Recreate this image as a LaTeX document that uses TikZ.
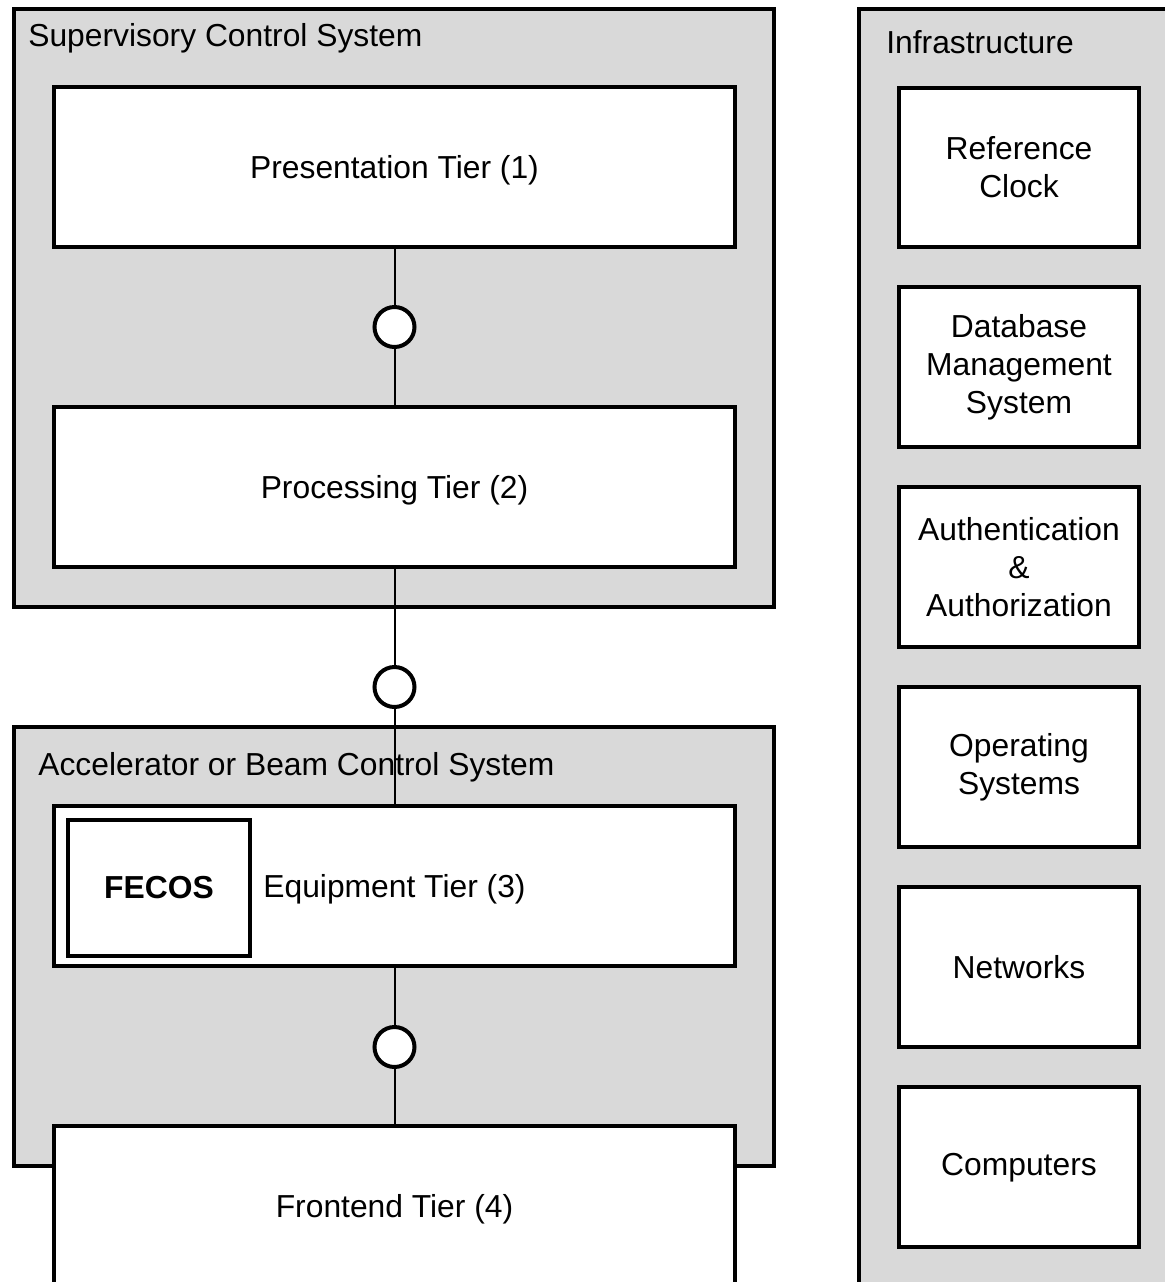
\documentclass[tikz,border=0pt]{standalone}
\usepackage{fontspec}
\setmainfont{Liberation Sans}
\usetikzlibrary{positioning}

\definecolor{groupgray}{RGB}{217,217,217}

\tikzset{
  group/.style={draw,line width=0.08cm,fill=groupgray},
  grouplabel/.style={anchor=west,inner sep=0},
  tier/.style={draw,line width=0.08cm,fill=white,inner sep=0,outer sep=0,
               minimum width=13.62cm,minimum height=3.2cm,text depth=0pt},
  infra/.style={draw,line width=0.08cm,fill=white,inner sep=0,outer sep=0,
                minimum width=4.8cm,minimum height=3.2cm,align=center},
  port/.style={circle,draw,line width=0.08cm,fill=white,inner sep=0,
               outer sep=0,minimum size=0.8cm},
  link/.style={line width=0.04cm},
}

\begin{document}
\begin{tikzpicture}[x=0.02cm,y=-0.02cm,font=\fontsize{18.1}{21.7}\selectfont,
                    node distance=0.8cm]
\clip (0,0) rectangle (1165,1282);

% containers
\draw[group] (14,9)   rectangle (774,607);
\draw[group] (14,727) rectangle (774,1166);
\draw[group] (859,9)  rectangle (1185,1300);
\path
    (28,38.5)  node [grouplabel] (scslabel)   {Supervisory Control System}
    (38,767.5) node [grouplabel] (abcslabel)  {Accelerator or Beam Control System}
    (886,42)   node [grouplabel] (infralabel) {Infrastructure};

% tiers
\node [tier] (presentation) at (394.5,167)  {Presentation Tier (1)};
\node [tier] (processing)   at (394.5,487)  {Processing Tier (2)};
\node [tier] (equipment)    at (394.5,886)  {Equipment Tier (3)};
\node [tier] (frontend)     at (394.5,1206) {Frontend Tier (4)};
\node [draw,line width=0.08cm,fill=white,inner sep=0,outer sep=0,
       minimum width=3.66cm,minimum height=2.72cm,font=\fontsize{18.1}{21.7}\bfseries]
       (fecos) at (159,888) {FECOS};

% interfaces
\node [port] (port12) at (394.5,327)  {};
\node [port] (port23) at (394.5,687)  {};
\node [port] (port34) at (394.5,1047) {};
\draw[link] (presentation) -- (port12) -- (processing);
\draw[link] (processing)   -- (port23) -- (equipment);
\draw[link] (equipment)    -- (port34) -- (frontend);

% infrastructure
\node [infra] (refclock) at (1019,167.5) {Reference\\Clock};
\node [infra,below=of refclock] (dbms)     {Database\\Management\\System};
\node [infra,below=of dbms]     (authn)    {Authentication\\\&\\Authorization};
\node [infra,below=of authn]    (opsys)    {Operating\\Systems};
\node [infra,below=of opsys]    (networks) {Networks};
\node [infra,below=of networks] (computers){Computers};
\end{tikzpicture}
\end{document}
